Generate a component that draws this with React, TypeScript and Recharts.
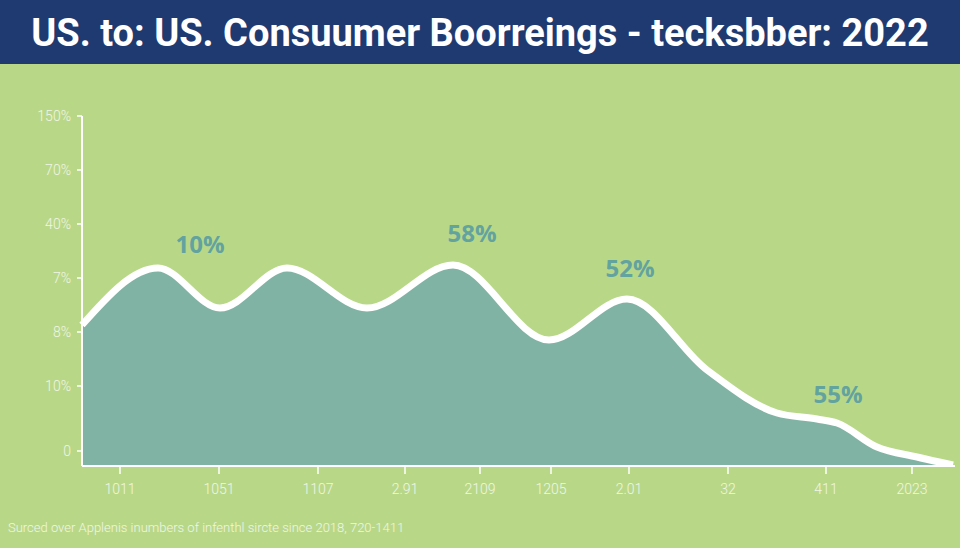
import React from 'react';
import { AreaChart, Area, XAxis, YAxis, ReferenceDot } from 'recharts';

// curve (x = position along the axis, v = height)
const pointX = [0, 76, 138, 205, 285, 371, 467, 545, 625, 695, 735, 755, 795, 835, 871];
const pointV = [141, 198, 158, 198, 158, 201, 126, 167, 96, 53, 47, 43, 19, 9, 1];

const xTicks = [38, 137, 236, 323, 398, 469, 547, 646, 744, 830];
const xTickLabels = ['1011', '1051', '1107', '2.91', '2109', '1205', '2.01', '32', '411', '2023'];

const yTicks = [15, 80, 134, 188, 242, 296, 350];
const yTickLabels = ['0', '10%', '8%', '7%', '40%', '70%', '150%'];

const calloutX = [118, 390, 548, 756];
const calloutV = [222, 233, 198, 72];
const calloutText = ['10%', '58%', '52%', '55%'];

const data = pointX.map((x, i) => ({ x, v: pointV[i] }));

const BG = '#b8d888';
const NAVY = '#1f3a70';
const TEAL = '#80b3a4';
const LABEL = '#62a39f';
const TICK = '#f1f6e6';

export default function App() {
  return (
    <div style={{ position: 'absolute', left: 0, top: 0, width: 960, height: 548, background: BG, overflow: 'hidden', fontFamily: 'Roboto, sans-serif' }}>
      <div
        style={{
          position: 'absolute', left: 0, top: 0, width: 960, height: 64, background: NAVY,
          color: '#fff', fontWeight: 700, fontSize: 38, lineHeight: '66px', textAlign: 'center',
          fontFamily: 'Roboto, sans-serif', whiteSpace: 'nowrap',
        }}
      >
        US. to: US. Consuumer Boorreings - tecksbber: 2022
      </div>

      <div style={{ position: 'absolute', left: 0, top: 0 }}>
        <AreaChart width={960} height={548} data={data} margin={{ top: 116, right: 5, bottom: 52, left: 0 }}>
          <XAxis
            dataKey="x"
            type="number"
            domain={[0, 873]}
            ticks={xTicks}
            tickFormatter={(v: number) => xTickLabels[xTicks.indexOf(v)]}
            axisLine={{ stroke: '#fff', strokeWidth: 2 }}
            tickLine={{ stroke: '#fff', strokeWidth: 1.5 }}
            tickSize={8}
            tickMargin={10}
            height={30}
            tick={{ fill: TICK, fontSize: 14, fontFamily: 'Roboto, sans-serif', fontWeight: 300 }}
          />
          <YAxis
            type="number"
            domain={[0, 350]}
            ticks={yTicks}
            tickFormatter={(v: number) => yTickLabels[yTicks.indexOf(v)]}
            axisLine={{ stroke: '#fff', strokeWidth: 2 }}
            tickLine={{ stroke: '#fff', strokeWidth: 1.5 }}
            tickSize={5}
            tickMargin={6}
            width={82}
            allowDataOverflow
            tick={{ fill: TICK, fontSize: 14, fontFamily: 'Roboto, sans-serif', fontWeight: 300 }}
          />
          <Area
            type="monotone"
            dataKey="v"
            stroke="#ffffff"
            strokeWidth={7}
            fill={TEAL}
            fillOpacity={1}
            isAnimationActive={false}
          />
          {calloutX.map((x, i) => (
            <ReferenceDot
              key={i}
              x={x}
              y={calloutV[i]}
              r={0}
              fill="none"
              stroke="none"
              label={{ value: calloutText[i], position: 'center', fill: LABEL, fontSize: 24, fontWeight: 700, fontFamily: '"Open Sans", sans-serif' }}
            />
          ))}
        </AreaChart>
      </div>

      <div style={{ position: 'absolute', left: 8, top: 520, color: TICK, fontSize: 13, fontWeight: 300, fontFamily: 'Roboto, sans-serif' }}>
        Surced over Applenis inumbers of infenthl sircte since 2018, 720-1411
      </div>
    </div>
  );
}
